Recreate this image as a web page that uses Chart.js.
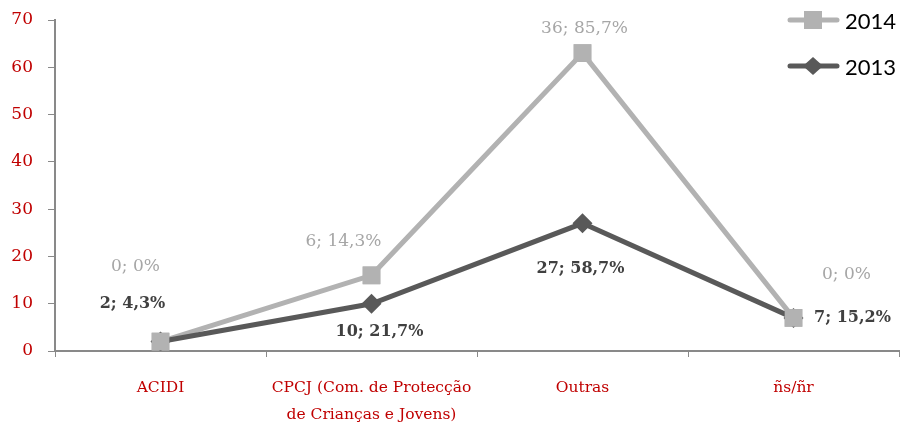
<!DOCTYPE html>
<html>
<head>
<meta charset="utf-8">
<script src="https://cdn.jsdelivr.net/npm/chart.js@4"></script>
<style>
  html, body { margin: 0; padding: 0; background: #fff; }
  #wrap { width: 901px; height: 427px; }
</style>
</head>
<body>
<div id="wrap"><canvas id="chart" width="901" height="427"></canvas></div>
<script>
const categories = ['ACIDI', ['CPCJ (Com. de Protecção', 'de Crianças e Jovens)'], 'Outras', 'ñs/ñr'];
const values2013 = [2, 10, 27, 7];
const values2014 = [0, 6, 36, 0];
const yTicks = [0, 10, 20, 30, 40, 50, 60, 70];

// label offsets from each point (dx, dy)
const offsets2013 = [[-28, -38], [8, 28], [-2, 46], [59, 0]];
const offsets2014 = [[-25, -75], [-28, -34], [2, -25], [53, -43]];

const color2013 = '#595959';
const color2014 = '#b2b2b2';

const pct = (v, arr) => {
    const total = arr.reduce((a, b) => a + b, 0);
    const p = Math.round(v / total * 1000) / 10;
    return (p % 1 === 0 ? p.toFixed(0) : p.toFixed(1)).replace('.', ',') + '%';
};

const labelsPlugin = {
    id: 'pointLabels',
    afterDatasetsDraw(chart) {
        const ctx = chart.ctx;
        // keep the 2014 markers on top, like the original
        chart.getDatasetMeta(1).data.forEach(p => p.draw(ctx));
        ctx.save();
        ctx.textAlign = 'center';
        ctx.textBaseline = 'middle';
        const sets = [
            {meta: chart.getDatasetMeta(0), vals: values2013, off: offsets2013, color: '#404040', font: 'bold 16px "DejaVu Serif"'},
            {meta: chart.getDatasetMeta(1), vals: values2014, off: offsets2014, color: '#a6a6a6', font: '17px "DejaVu Serif"'}
        ];
        sets.forEach(s => {
            ctx.fillStyle = s.color;
            ctx.font = s.font;
            s.meta.data.forEach((p, i) => {
                const txt = s.vals[i] + '; ' + pct(s.vals[i], s.vals);
                ctx.fillText(txt, p.x + s.off[i][0], p.y + s.off[i][1]);
            });
        });
        ctx.restore();
    },
    afterDraw(chart) {
        // legend, 2014 above 2013
        const ctx = chart.ctx;
        const items = [
            {ds: chart.data.datasets[1], y: 20},
            {ds: chart.data.datasets[0], y: 66}
        ];
        ctx.save();
        items.forEach(it => {
            ctx.strokeStyle = it.ds.borderColor;
            ctx.lineWidth = 5;
            ctx.lineCap = 'round';
            ctx.beginPath();
            ctx.moveTo(790, it.y);
            ctx.lineTo(837, it.y);
            ctx.stroke();
            ctx.fillStyle = it.ds.borderColor;
            if (it.ds.pointStyle === 'rect') {
                ctx.fillRect(813 - 9, it.y - 9, 18, 18);
            } else {
                ctx.beginPath();
                ctx.moveTo(813, it.y - 9);
                ctx.lineTo(823, it.y);
                ctx.lineTo(813, it.y + 9);
                ctx.lineTo(803, it.y);
                ctx.closePath();
                ctx.fill();
            }
            ctx.fillStyle = '#000';
            ctx.font = '22px Lato';
            ctx.textAlign = 'left';
            ctx.textBaseline = 'middle';
            ctx.fillText(it.ds.label, 845, it.y + 2);
        });
        ctx.restore();
    }
};

new Chart(document.getElementById('chart'), {
    type: 'line',
    data: {
        labels: categories,
        datasets: [{
            label: '2013',
            data: values2013,
            borderColor: color2013,
            backgroundColor: color2013,
            borderWidth: 5,
            pointStyle: 'rectRot',
            pointRadius: 10,
            pointBorderWidth: 0,
            tension: 0
        }, {
            label: '2014',
            data: values2014,
            borderColor: color2014,
            backgroundColor: color2014,
            borderWidth: 5,
            pointStyle: 'rect',
            pointRadius: 12.5,
            pointBorderWidth: 0,
            tension: 0
        }]
    },
    options: {
        responsive: false,
        animation: false,
        layout: {
            autoPadding: false,
            padding: {top: 20, right: 2, left: 0, bottom: 0}
        },
        plugins: {
            legend: {display: false},
            tooltip: {enabled: false}
        },
        scales: {
            x: {
                offset: true,
                grid: {
                    offset: true,
                    drawOnChartArea: false,
                    color: '#898989',
                    tickLength: 6
                },
                border: {color: '#898989', width: 2},
                ticks: {
                    color: '#c00000',
                    padding: 17,
                    maxRotation: 0,
                    font: {family: 'DejaVu Serif', size: 15.5, lineHeight: 1.75}
                },
                afterFit: s => { s.height = 76; s.paddingRight = 0; s.paddingLeft = 0; }
            },
            y: {
                stacked: true,
                min: 0,
                max: 70,
                afterBuildTicks: s => { s.ticks = yTicks.map(v => ({value: v})); },
                grid: {
                    drawOnChartArea: false,
                    color: '#898989',
                    tickLength: 7
                },
                border: {color: '#898989', width: 2},
                ticks: {
                    color: '#c00000',
                    padding: 15,
                    font: {family: 'DejaVu Serif', size: 17}
                },
                afterFit: s => { s.width = 55; s.paddingTop = 0; s.paddingBottom = 0; }
            }
        }
    },
    plugins: [labelsPlugin]
});
</script>
</body>
</html>
